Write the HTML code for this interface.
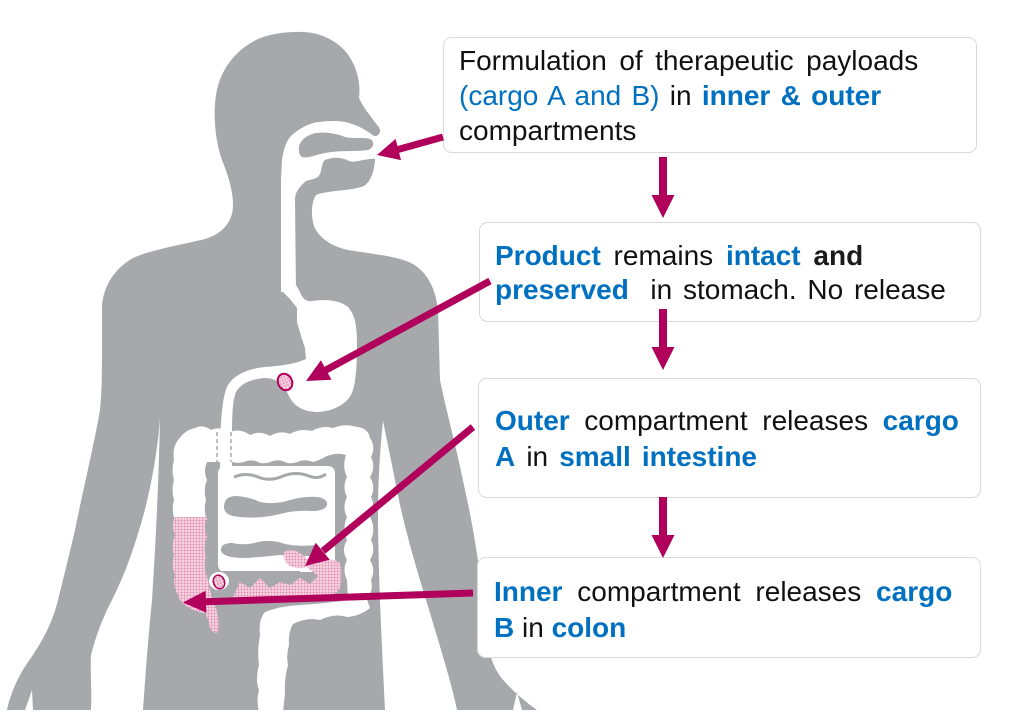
<!DOCTYPE html>
<html>
<head>
<meta charset="utf-8">
<style>
  html,body{margin:0;padding:0;background:#fff;}
  svg{display:block;}
  text{font-family:"Liberation Sans", Arial, sans-serif;font-size:28px;fill:#111;}
  .b{fill:#0070C0;font-weight:bold;}
  .c{fill:#0070C0;}
</style>
</head>
<body>
<svg width="1024" height="723" viewBox="0 0 1024 723" xmlns="http://www.w3.org/2000/svg">
  <defs>
    <pattern id="dots" width="3" height="3" patternUnits="userSpaceOnUse">
      <rect width="3" height="3" fill="#F6D5E3"/>
      <circle cx="1.5" cy="1.5" r="0.95" fill="#E088AE"/>
    </pattern>
  </defs>

  <!-- Body silhouette -->
  <path fill="#A7A8AC" d="M297,32
    C318,31 338,40 349,56
    C357,68 361,84 359,98
    C363,107 371,117 378,126
    C382,131 380,135 374,137
    L375,160
    C374,172 371,181 364,186
    C352,191 328,190 316,195
    C311,203 311,216 314,226
    C319,238 331,246 348,250
    C372,254 398,256 413,264
    C428,273 436,290 438,310
    L440,380
    C446,410 456,445 465,490
    C474,530 481,575 485,620
    C487,650 492,668 505,682
    C515,693 527,703 537,710
    L522,710 L517,692 L513,710
    L457,710
    C452,685 441,650 430,613
    C420,580 409,545 400,505
    C393,470 388,445 383,421
    C380,450 378,480 378,513
    C378,560 381,630 385,710
    L143,710
    C145,680 148,640 152,600
    C156,540 159,470 160,417
    C158,450 150,495 140,527
    C132,555 122,580 112,600
    C104,615 96,635 91,655
    C90,670 92,690 91,710
    L33,710 L32,690 L25,710 L7,710
    C10,695 17,678 28,662
    C40,645 52,625 58,600
    C63,580 68,560 75,530
    C82,495 95,440 100,410
    C102,390 102,370 102,340
    L102,305
    C104,285 115,268 133,258
    C150,250 185,244 205,239
    C222,234 233,222 233,205
    C233,190 228,175 222,160
    C215,140 213,115 216,95
    C220,70 235,50 258,39
    C270,34 283,32 297,32 Z"/>

  <!-- Nasal / oral channel + esophagus -->
  <path fill="#fff" d="M395,136 L374,136 C370,133 360,126 352,124 C345,121 335,120 318,122 C310,123 300,128 292,135 C287,140 284,147 282,160 L281,180 L281,292 L296,292 L295,200 C295,193 298,188 306,181 C312,179 318,179 320,174 C322,168 322,162 325,160 C332,157 340,157 347,160 C352,163 358,161 363,160 L370,159 L395,158 Z"/>

  <!-- Stomach + duodenum -->
  <path fill="#fff" d="M282,285 L283,292 L290,299 L297,308 L297,322 L301,336 L305,348 L306,359
    C295,364 280,366 265,367 C248,369 235,374 228,385 C222,396 221,420 220,445 L220,470 L232,470 L232,445
    C232,420 232,402 236,392 C241,383 252,379 265,378 C277,378 284,385 290,398 C295,407 305,412 318,412
    C333,411 345,405 351,395 C356,385 357,365 357,345 C357,325 355,315 348,307 C340,300 325,299 312,301
    C306,302 302,298 300,292 L296,285 Z"/>

  <!-- Colon: ascending + transverse + descending -->
  <path fill="#fff" d="M175,520 Q171,510 174,500 Q171,490 174,480 Q171,470 174,460 Q172,448 178,440 Q185,430 195,428
    Q203,424 211,430 Q219,426 230,432 Q240,428 250,435 Q260,430 270,436 Q280,430 290,434 Q300,428 312,431
    Q322,425 333,428 Q345,423 357,427 Q368,428 370,438
    Q376,447 371,457 Q376,467 370,477 Q376,487 371,497 Q376,507 370,517 Q376,528 371,540 Q376,550 370,560
    Q376,570 371,580 Q374,592 366,600 L348,600
    L347,580 Q342,570 347,560 Q341,550 347,540 Q342,528 347,517 Q342,507 347,497 Q342,487 347,477 Q342,467 346,455
    Q338,452 327,456 Q320,460 313,462 Q306,459 300,461 Q293,464 287,463 Q280,459 273,461 Q266,464 260,463
    Q253,459 247,461 Q240,464 232,462 L207,462
    Q203,471 207,480 Q203,490 206,500 Q203,510 207,520 Z"/>

  <!-- Sigmoid + rectum -->
  <path fill="#fff" d="M366,597 L370,608 Q360,616 347,617 Q335,613 320,620 Q307,617 293,624 Q288,632 289,645 Q286,655 288,665 Q284,680 285,693 L283,712 L259,712 Q256,700 259,690 Q255,680 259,665 Q257,650 260,635 Q258,620 265,612 Q280,606 300,605 Q330,603 348,600 Z"/>

  <!-- Small intestine block -->
  <rect x="218" y="466" width="117" height="106" rx="7" fill="#fff"/>

  <!-- Palate island -->
  <path fill="#A7A8AC" d="M299,150 C298,143 304,137 312,134 C322,131 335,133 345,137 C355,139 365,137 370,139 C375,141 374,148 368,150 C355,152 340,150 325,153 C315,155 307,159 302,157 C299,155 299,152 299,150 Z"/>

  <!-- Small intestine gaps -->
  <path d="M234,477 Q246,472 258,477 Q270,482 283,476 Q296,471 309,476 Q318,480 326,474" fill="none" stroke="#A7A8AC" stroke-width="3"/>
  <path fill="#A7A8AC" d="M224,507 Q224,496 236,496 Q250,497 260,502 Q275,505 290,500 Q305,496 318,497 Q328,499 327,505 Q325,511 312,511 Q295,510 280,514 Q260,519 240,517 Q224,516 224,507 Z"/>
  <path fill="#A7A8AC" d="M221,550 Q221,543 232,543 Q245,546 258,542 Q272,539 285,544 Q300,547 316,545 Q320,551 312,556 Q295,556 280,555 Q262,557 245,558 Q222,558 221,550 Z"/>
  <path fill="#A7A8AC" d="M218,571 L300,571 L300,580 L218,580 Z"/>

  <!-- Duodenum dashed crossing -->
  <line x1="217" y1="432" x2="217" y2="462" stroke="#A7A8AC" stroke-width="1.5" stroke-dasharray="4 3"/>
  <line x1="231" y1="432" x2="231" y2="462" stroke="#A7A8AC" stroke-width="1.5" stroke-dasharray="4 3"/>

  <!-- Pink: cecum / ascending colon -->
  <path fill="url(#dots)" d="M175,517 L207,517 Q203,527 207,537 Q203,547 206,557 Q203,567 207,577 L210,590 Q212,600 216,608 Q220,620 218,632 Q214,635 210,628 Q208,618 205,613 Q195,612 188,607 Q180,603 178,595 Q172,585 175,575 Q171,565 174,555 Q171,545 175,535 Q171,525 175,517 Z"/>
  <!-- Pink: ileum -->
  <path fill="url(#dots)" d="M233,597 L240,582 L250,588 L260,578 L270,588 L280,582 L290,585 L300,578 L310,584 L318,576 L307,567 Q300,570 290,566 Q282,560 284,552 Q290,548 298,552 Q305,556 308,560 L320,560 Q333,558 340,563 Q343,575 340,588 Q335,597 320,597 Z"/>

  <!-- Capsules -->
  <ellipse cx="285" cy="382" rx="7" ry="8.5" transform="rotate(-25 285 382)" fill="url(#dots)" stroke="#B0005B" stroke-width="2"/>
  <ellipse cx="219" cy="581" rx="10" ry="9" fill="#fff"/>
  <ellipse cx="219" cy="582" rx="5.5" ry="7" transform="rotate(-20 219 582)" fill="url(#dots)" stroke="#B0005B" stroke-width="1.5"/>

  <!-- Boxes -->
  <rect x="443.5" y="37.5" width="533" height="115" rx="8" fill="#fff" stroke="#DADADA" stroke-width="1"/>
  <rect x="479.5" y="222.5" width="501" height="99" rx="8" fill="#fff" stroke="#DADADA" stroke-width="1"/>
  <rect x="478.5" y="378.5" width="502" height="119" rx="8" fill="#fff" stroke="#DADADA" stroke-width="1"/>
  <rect x="477.5" y="557.5" width="503" height="100" rx="8" fill="#fff" stroke="#DADADA" stroke-width="1"/>

  <!-- Vertical flow arrows -->
  <g fill="#B0005B">
    <rect x="659" y="157" width="8" height="39"/>
    <polygon points="651.5,195 674.5,195 663,218"/>
    <rect x="659" y="309" width="8" height="39"/>
    <polygon points="651.5,347 674.5,347 663,370"/>
    <rect x="659" y="497" width="8" height="39"/>
    <polygon points="651.5,535 674.5,535 663,558"/>
  </g>

  <!-- Pointer arrows -->
  <g stroke="#B0005B" stroke-width="7" fill="none">
    <line x1="443" y1="137" x2="398" y2="149.5"/>
    <line x1="490" y1="281" x2="326" y2="370"/>
    <line x1="473" y1="427" x2="323" y2="551"/>
    <line x1="473" y1="593" x2="206" y2="601.7"/>
  </g>
  <g fill="#B0005B">
    <polygon points="377,155 401,160.1 395.6,138.9"/>
    <polygon points="306,381 331.5,379.7 320.9,360.3"/>
    <polygon points="305,566 329.7,559.8 315.7,542.8"/>
    <polygon points="183,602.5 206.4,612.7 205.6,590.7"/>
  </g>

  <!-- Box 1 text -->
  <text x="459" y="70" word-spacing="4.7">Formulation of therapeutic payloads</text>
  <text x="459" y="105" word-spacing="2.5"><tspan class="c">(cargo A and B)</tspan> in <tspan class="b">inner &amp; outer</tspan></text>
  <text x="459" y="140">compartments</text>

  <!-- Box 2 text -->
  <text x="495" y="265" word-spacing="5"><tspan class="b">Product</tspan> remains <tspan class="b">intact</tspan> <tspan font-weight="bold" fill="#1b1b1b">and</tspan></text>
  <text x="495" y="299" word-spacing="3" style="white-space:pre"><tspan class="b">preserved</tspan>  in stomach. No release</text>

  <!-- Box 3 text -->
  <text x="495" y="430" word-spacing="6.8"><tspan class="b">Outer</tspan> compartment releases <tspan class="b">cargo</tspan></text>
  <text x="495" y="466" word-spacing="3.3"><tspan class="b">A</tspan> in <tspan class="b">small intestine</tspan></text>

  <!-- Box 4 text -->
  <text x="494" y="601" word-spacing="7"><tspan class="b">Inner</tspan> compartment releases <tspan class="b">cargo</tspan></text>
  <text x="494" y="637"><tspan class="b">B</tspan> in <tspan class="b">colon</tspan></text>
</svg>
</body>
</html>
